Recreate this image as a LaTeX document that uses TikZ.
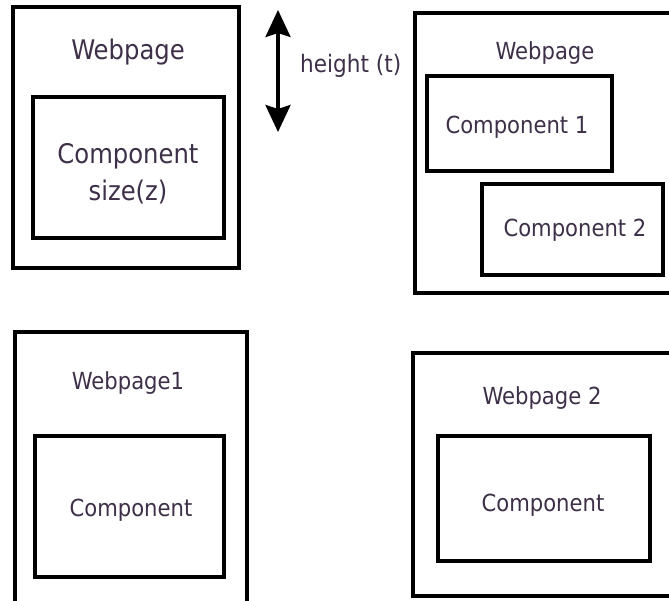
\documentclass[tikz,border=0pt]{standalone}
\usepackage{fontspec}
\setmainfont{DejaVu Sans Condensed}
\usetikzlibrary{arrows.meta}
\definecolor{txt}{RGB}{62,48,72}
\tikzset{
  box/.style={draw=black, line width=3.3pt, rectangle, inner sep=0pt, fill=none},
  lbl/.style={text=txt, font=\fontsize{27}{37}\selectfont, inner sep=0pt, align=center},
  lbls/.style={text=txt, font=\fontsize{23.5}{28}\selectfont, inner sep=0pt, align=center},
  smalllbl/.style={text=txt, font=\fontsize{24}{28}\selectfont, inner sep=0pt, anchor=west},
}
\begin{document}
\begin{tikzpicture}[x=1pt,y=-1pt]
\useasboundingbox[fill=white] (0,0) rectangle (669,600);
% top-left
\node[box, minimum width=226pt, minimum height=261pt] (tlo) at (126,137.5) {};
\node[box, minimum width=191pt, minimum height=141pt] (tli) at (128.5,167.5) {};
\node[lbl] (tlw) at (128,52) {Webpage};
\node[lbl] (tlc) at (128,173.5) {Component\\size(z)};
% arrow
\coordinate (atop) at (278,10);
\coordinate (abot) at (278,132);
\draw[line width=3.5pt, {Stealth[width=25pt,length=27pt,inset=4pt]}-{Stealth[width=25pt,length=27pt,inset=4pt]}] (atop) -- (abot);
\node[smalllbl] (ht) at (300,66) {height (t)};
% top-right
\node[box, minimum width=275pt, minimum height=280pt] (tro) at (552.5,153) {};
\node[box, minimum width=185pt, minimum height=95pt] (c1) at (519.5,123.5) {};
\node[box, minimum width=181pt, minimum height=91pt] (c2) at (572.5,229.5) {};
\node[lbls] (trw) at (545,53) {Webpage};
\node[lbls] (c1t) at (517,127) {Component 1};
\node[lbls] (c2t) at (575,230) {Component 2};
% bottom-left
\node[box, minimum width=232pt, minimum height=288pt] (blo) at (131,476) {};
\node[box, minimum width=189pt, minimum height=141pt] (bli) at (129.5,506.5) {};
\node[lbls] (blw) at (128,383) {Webpage1};
\node[lbls] (blc) at (131,510) {Component};
% bottom-right
\node[box, minimum width=277pt, minimum height=243pt] (bro) at (551.5,474.5) {};
\node[box, minimum width=212pt, minimum height=125pt] (bri) at (544,498.5) {};
\node[lbls] (brw) at (542,398) {Webpage 2};
\node[lbls] (brc) at (543,505) {Component};
\end{tikzpicture}
\end{document}
